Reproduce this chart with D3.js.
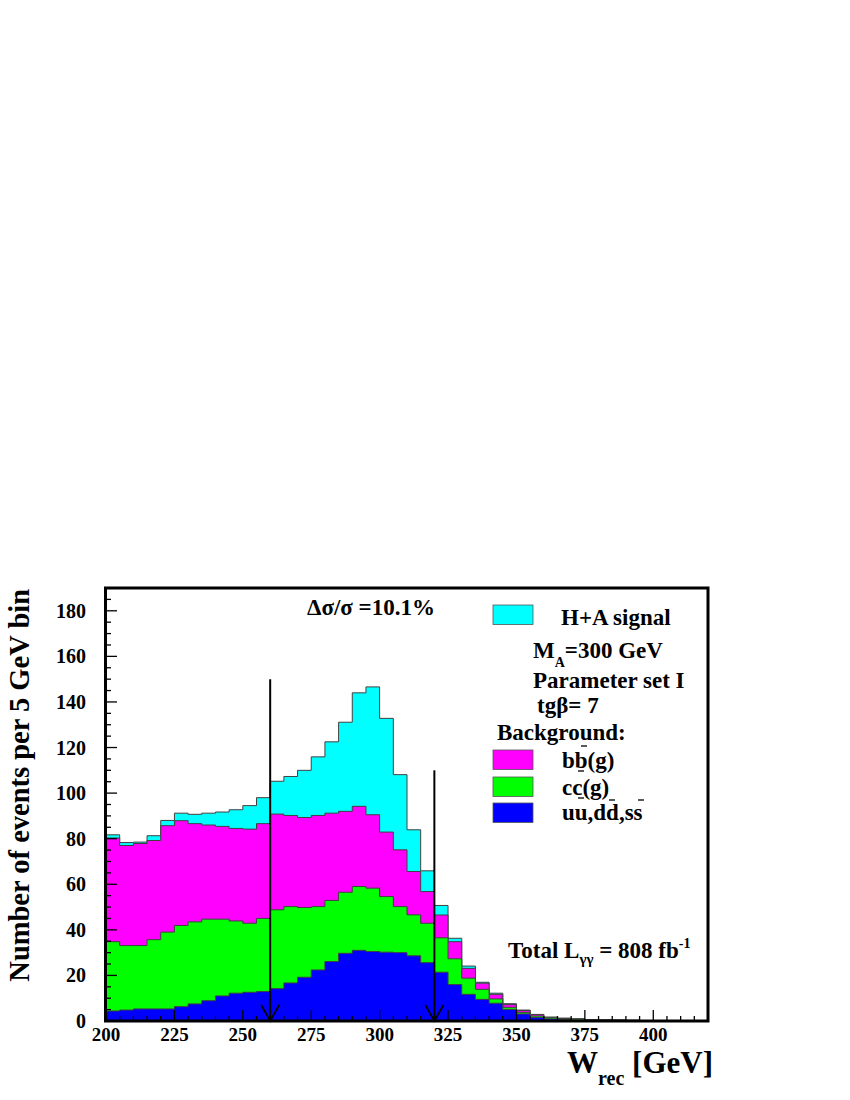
<!DOCTYPE html>
<html>
<head>
<meta charset="utf-8">
<script src="https://cdn.jsdelivr.net/npm/d3@7"></script>
<style>
  html, body { margin: 0; padding: 0; background: #fff; }
  svg { display: block; }
  text { font-family: "Liberation Serif", "Times New Roman", serif; font-weight: bold; fill: #000; }
</style>
</head>
<body>
<div id="chart"></div>
<script>
// ---- data: 5 GeV bins, lower edges ----
const binLow = [200,205,210,215,220,225,230,235,240,245,250,255,260,265,270,275,280,285,290,295,
                300,305,310,315,320,325,330,335,340,345,350,355,360,365,370,375,380,385,390,395,
                400,405,410,415];
const binWidth = 5;
// events per bin, per component (stacked: uds bottom, then cc, bb, signal)
const udsValues = [4.4,4.8,5.3,5.3,5.3,6.3,7.5,8.9,11.0,12.2,12.6,12.9,14.2,16.7,19.2,22.4,26.1,29.7,31.0,30.5,
                   30.2,30.0,28.6,25.6,21.4,16.0,11.7,9.5,7.8,5.1,3.1,1.6,0.9,0.6,0.4,0.3,0.2,0.2,0.2,0.2,
                   0.1,0.1,0,0];
const ccValues  = [30.4,28.3,27.8,30.4,33.7,35.6,36.0,35.8,33.7,31.7,30.3,32.1,34.6,33.5,30.6,27.8,26.8,26.8,28.0,27.8,
                   24.4,20.2,18.0,17.3,15.1,11.3,7.1,4.4,1.9,0.9,0.7,0.6,0.5,0.5,0.5,0.3,0.3,0.2,0.1,0,
                   0,0,0,0];
const bbValues  = [45.5,43.9,44.8,43.5,46.7,46.0,43.1,41.3,40.7,40.6,41.3,41.6,42.0,40.0,39.5,40.0,38.3,35.5,35.2,32.2,
                   28.3,24.9,19.0,13.9,10.0,7.5,4.3,2.7,2.0,1.2,0.8,0.6,0.2,0.1,0,0,0,0,0,0,
                   0,0,0,0];
const sigValues = [1.4,1.3,0.6,2.1,2.3,3.3,4.1,5.2,6.3,8.2,10.3,11.4,14.4,17.1,20.7,25.7,31.3,39.1,49.8,56.1,
                   49.9,33.0,18.3,9.1,4.2,1.5,1.0,0.4,0.5,0.4,0.2,0.1,0.1,0,0,0,0,0,0,0,
                   0,0,0,0];
const seriesKeys   = ["uds", "cc", "bb", "sig"];
const seriesColors = { uds: "#0000ff", cc: "#00ff00", bb: "#ff00ff", sig: "#00ffff" };
const yTickValues = [0,20,40,60,80,100,120,140,160,180];
const xTickValues = [200,225,250,275,300,325,350,375,400];
const cutLines = [ {x: 260, top: 150}, {x: 320, top: 110} ];

// ---- layout ----
const W = 850, H = 1100;
const L = 106, R = 708, T = 588, B = 1021;

const svg = d3.select("#chart").append("svg").attr("width", W).attr("height", H);

const x = d3.scaleLinear().domain([200, 420]).range([L, R]);
const y = d3.scaleLinear().domain([0, 190]).range([B, T]);

const table = binLow.map((b, i) => ({ x: b, uds: udsValues[i], cc: ccValues[i], bb: bbValues[i], sig: sigValues[i] }));
const stacked = d3.stack().keys(seriesKeys)(table);

const area = d3.area()
  .x(d => x(d.x))
  .y0(y(0))
  .y1(d => y(d.v))
  .curve(d3.curveStepAfter);

// draw cumulative histograms from the top layer down
const gH = svg.append("g");
for (let k = stacked.length - 1; k >= 0; k--) {
  const layer = stacked[k];
  const pts = layer.map((d, i) => ({ x: binLow[i], v: d[1] }));
  pts.push({ x: binLow[binLow.length - 1] + binWidth, v: layer[layer.length - 1][1] });
  gH.append("path")
    .attr("d", area(pts))
    .attr("fill", seriesColors[layer.key])
    .attr("stroke", "#404040")
    .attr("stroke-width", 1);
}

// cut arrows
cutLines.forEach(c => {
  const cx = x(c.x);
  svg.append("line").attr("x1", cx).attr("x2", cx).attr("y1", y(c.top)).attr("y2", y(0))
    .attr("stroke", "#000").attr("stroke-width", 2);
  svg.append("path")
    .attr("d", `M${cx - 9},${y(0) - 16} L${cx},${y(0)} L${cx + 9},${y(0) - 16}`)
    .attr("fill", "none").attr("stroke", "#000").attr("stroke-width", 1.8);
});

// ticks (inside frame)
const yMinor = d3.range(0, 191, 5);
svg.append("g").selectAll("line").data(yMinor).join("line")
  .attr("x1", L).attr("x2", d => L + (d % 20 === 0 ? 11 : 5))
  .attr("y1", d => y(d)).attr("y2", d => y(d))
  .attr("stroke", "#000").attr("stroke-width", 1.3);
const xMinor = d3.range(200, 421, 5);
svg.append("g").selectAll("line").data(xMinor).join("line")
  .attr("x1", d => x(d)).attr("x2", d => x(d))
  .attr("y1", B).attr("y2", d => B - ((d - 200) % 25 === 0 ? 11 : 5))
  .attr("stroke", "#000").attr("stroke-width", 1.3);

// frame
svg.append("rect").attr("x", L - 0.5).attr("y", T).attr("width", R - L + 0.5).attr("height", B - T)
  .attr("fill", "none").attr("stroke", "#000").attr("stroke-width", 3);

// tick labels
svg.append("g").selectAll("text").data(yTickValues).join("text")
  .attr("x", 86).attr("y", d => y(d) + 7)
  .attr("text-anchor", "end").attr("font-size", 20)
  .text(d => d);
svg.append("g").selectAll("text").data(xTickValues).join("text")
  .attr("x", d => x(d)).attr("y", 1041)
  .attr("text-anchor", "middle").attr("font-size", 19)
  .text(d => d);

// axis titles
svg.append("text")
  .attr("transform", "translate(29,589) rotate(-90)")
  .attr("text-anchor", "end").attr("font-size", 28.5)
  .text("Number of events per 5 GeV bin");

const xt = svg.append("text").attr("x", 713).attr("y", 1073).attr("text-anchor", "end").attr("font-size", 31);
xt.append("tspan").text("W");
xt.append("tspan").attr("font-size", 20).attr("dy", 12).text("rec");
xt.append("tspan").attr("dy", -12).text(" [GeV]");

// annotations
svg.append("text").attr("x", 307).attr("y", 615).attr("font-size", 23).text("Δσ/σ =10.1%");

const tot = svg.append("text").attr("x", 508).attr("y", 958).attr("font-size", 23);
tot.append("tspan").text("Total L");
tot.append("tspan").attr("font-size", 15).attr("dy", 6).text("γγ");
tot.append("tspan").attr("dy", -6).text(" = 808 fb");
tot.append("tspan").attr("font-size", 14).attr("dy", -10).text("-1");

// legend
const legendBoxes = [
  { key: "sig", y: 605 },
  { key: "bb",  y: 750 },
  { key: "cc",  y: 777 },
  { key: "uds", y: 803 }
];
svg.append("g").selectAll("rect").data(legendBoxes).join("rect")
  .attr("x", 493).attr("y", d => d.y).attr("width", 40).attr("height", 19.5)
  .attr("fill", d => seriesColors[d.key]).attr("stroke", "#555").attr("stroke-width", 0.8);

svg.append("text").attr("x", 561).attr("y", 625).attr("font-size", 23).text("H+A signal");
const ma = svg.append("text").attr("x", 533).attr("y", 658).attr("font-size", 23);
ma.append("tspan").text("M");
ma.append("tspan").attr("font-size", 14).attr("dy", 9).text("A");
ma.append("tspan").attr("dy", -9).text("=300 GeV");
svg.append("text").attr("x", 533).attr("y", 688).attr("font-size", 23).text("Parameter set I");
svg.append("text").attr("x", 537).attr("y", 713).attr("font-size", 23).text("tgβ= 7");
svg.append("text").attr("x", 497).attr("y", 740).attr("font-size", 23).text("Background:");
svg.append("text").attr("x", 562).attr("y", 768).attr("font-size", 23).text("bb(g)");
svg.append("text").attr("x", 562).attr("y", 795).attr("font-size", 23).text("cc(g)");
svg.append("text").attr("x", 562).attr("y", 820).attr("font-size", 23).text("uu,dd,ss");

// misplaced anti-quark bars as rendered in the original
const bars = [
  [581, 587, 746], [578, 584, 771], [578, 584, 798],
  [609, 615, 800], [638, 644, 800]
];
svg.append("g").selectAll("line").data(bars).join("line")
  .attr("x1", d => d[0]).attr("x2", d => d[1]).attr("y1", d => d[2]).attr("y2", d => d[2])
  .attr("stroke", "#000").attr("stroke-width", 1.3);
</script>
</body>
</html>
